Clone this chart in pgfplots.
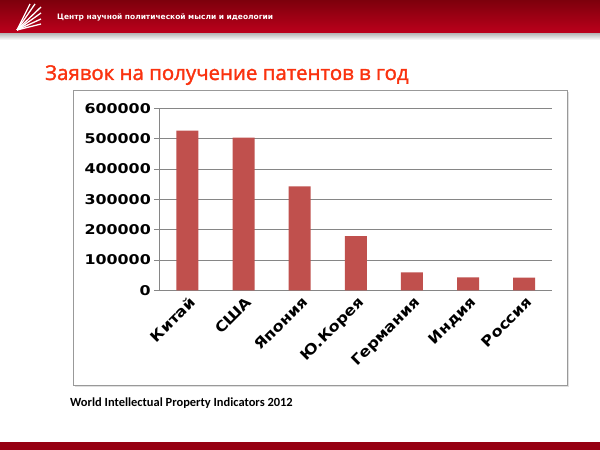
\documentclass[border=0pt]{standalone}
\usepackage{pgfplots}
\pgfplotsset{compat=1.18}
\usepackage{fontspec}
\setmainfont{DejaVu Sans}
\newfontfamily\tickfont{DejaVu Sans}[FakeStretch=1.18]
\newfontfamily\xtickfont{DejaVu Sans}[FakeStretch=1.12]
\newfontfamily\titlefont{Open Sans}[FakeBold=1.6]
\newfontfamily\footfont{Carlito}
\definecolor{barred}{HTML}{C0504D}
\definecolor{titlered}{RGB}{250,50,15}
\definecolor{gridgray}{RGB}{134,134,134}
\definecolor{hdrtop}{RGB}{125,0,12}
\definecolor{hdrbot}{RGB}{190,0,28}
\definecolor{footred}{RGB}{150,0,18}
\begin{document}
\begin{tikzpicture}[x=1bp,y=1bp]
\useasboundingbox (0,0) rectangle (600,450);
\fill[white] (0,0) rectangle (600,450);
% header
\shade[top color=hdrtop, bottom color=hdrbot] (0,416) rectangle (600,450);
\shade[top color=black!25, bottom color=white] (0,410) rectangle (600,416);
% logo
\begin{scope}[white, line width=1.3pt]
\draw (17,420) -- (30,446);
\draw (17,420) -- (35,446);
\draw (17,420) -- (41,443);
\draw (17,420) -- (41,437);
\draw (17,420) -- (41,431);
\draw (17,420) -- (41,426);
\end{scope}
\node[anchor=west, inner sep=0pt, text=white, font=\bfseries\fontsize{7.5}{9}\selectfont] at (57,433) {Центр научной политической мысли и идеологии};
% title
\node[anchor=base west, inner sep=0pt, text=titlered, font=\titlefont\fontsize{20.5}{24}\selectfont] at (45,370) {Заявок на получение патентов в год};
% chart box
\fill[black!12] (75,63) rectangle (569,358);
\filldraw[fill=white, draw=black!40, line width=0.8pt] (73,65) rectangle (567,360);
% footer
\node[anchor=base west, inner sep=0pt, font=\footfont\bfseries\fontsize{12.5}{14}\selectfont] at (70,43) {World Intellectual Property Indicators 2012};
\fill[footred] (0,0) rectangle (600,8);
\begin{axis}[
  at={(159.3bp,159.7bp)}, anchor=south west,
  scale only axis, width=393bp, height=182bp,
  xmin=-0.5, xmax=6.5, ymin=0, ymax=600000,
  ytick={0,100000,...,600000},
  scaled y ticks=false,
  yticklabel style={/pgf/number format/fixed, /pgf/number format/1000 sep={}, font=\tickfont\bfseries\fontsize{13.5}{15}\selectfont},
  /pgf/number format/assume math mode=true,
  xtick={0,...,6},
  xticklabels={Китай,США,Япония,Ю.Корея,Германия,Индия,Россия},
  xticklabel style={rotate=45, anchor=north east, font=\xtickfont\bfseries\fontsize{14.5}{17}\selectfont, inner sep=1pt, xshift=2bp},
  extra x ticks={-0.5,0.5,...,6.5},
  extra x tick labels={},
  extra x tick style={major tick length=5bp, tick style={draw=gridgray}},
  major x tick style={draw=none},
  axis lines*=left,
  axis line style={draw=gridgray, line width=0.6pt, -},
  ymajorgrids, grid style={draw=gridgray, line width=0.6pt},
  y tick style={draw=gridgray, line width=0.6pt},
  tick align=outside, major tick length=5bp,
  ybar, bar width=22bp,
  xtick pos=bottom, ytick pos=left,
  clip=false,
]
\addplot[fill=barred, draw=none] coordinates {(0,526412) (1,503582) (2,342610) (3,178924) (4,59444) (5,42291) (6,41414)};
\end{axis}
\end{tikzpicture}
\end{document}
